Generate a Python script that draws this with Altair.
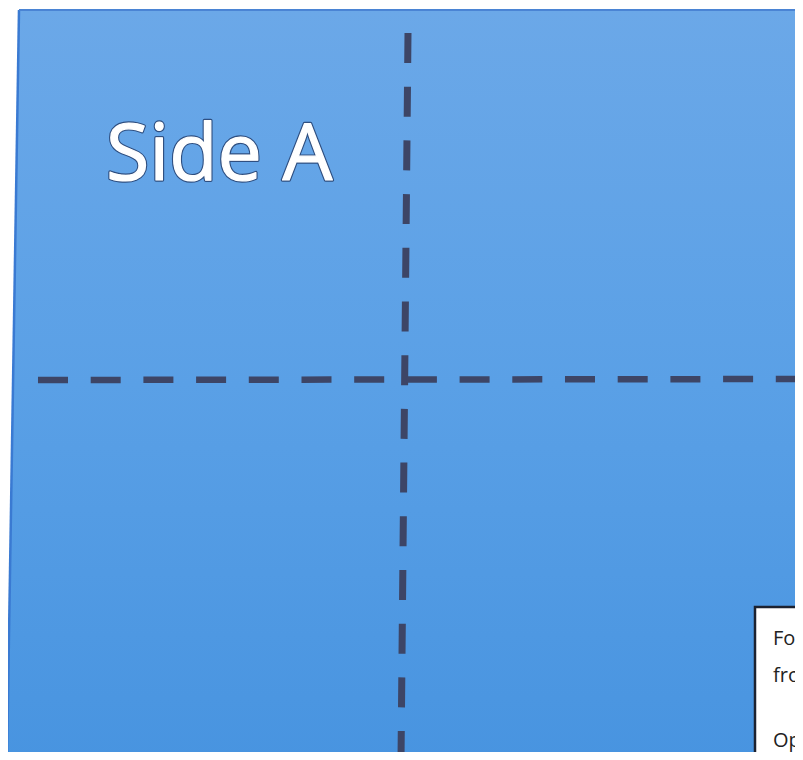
import altair as alt
import pandas as pd

# ---- data (image pixel coordinates) ----
sheet_edge_y = [10, 760]
sheet_left_x = [19, 7]
sheet_right_x = [803, 803]

fold_v_x = [408, 401]
fold_v_y = [33, 760]
fold_h_x = [38, 803]
fold_h_y = [380, 379]

label_text = ["Side A"]
label_x = [106]
label_y = [180]

note_x = [755]
note_x2 = [820]
note_y = [607]
note_y2 = [780]

note_lines = ["Fol", "fro", "Op"]
note_line_x = [773, 773, 773]
note_line_y = [645, 682, 747]

X0, X1 = 8, 795
Y0, Y1 = 8, 752

xs = alt.Scale(domain=[X0, X1], nice=False, zero=False)
ys = alt.Scale(domain=[Y0, Y1], nice=False, zero=False, reverse=True)
noax = None

sheet = pd.DataFrame({"y": sheet_edge_y, "xl": sheet_left_x, "xr": sheet_right_x})
vline = pd.DataFrame({"x": fold_v_x, "y": fold_v_y, "o": [0, 1]})
hline = pd.DataFrame({"x": fold_h_x, "y": fold_h_y, "o": [0, 1]})
label = pd.DataFrame({"t": label_text, "x": label_x, "y": label_y})
note = pd.DataFrame({"x": note_x, "x2": note_x2, "y": note_y, "y2": note_y2})
lines = pd.DataFrame({"t": note_lines, "x": note_line_x, "y": note_line_y})

gradient = alt.Gradient(
    gradient="linear",
    stops=[alt.GradientStop(color="#6ba8e8", offset=0),
           alt.GradientStop(color="#5aa0e6", offset=0.5),
           alt.GradientStop(color="#4894e0", offset=1)],
    x1=0, x2=0, y1=0, y2=1,
)

sheet_area = alt.Chart(sheet).mark_area(orient="horizontal", color=gradient, clip=True).encode(
    y=alt.Y("y:Q", scale=ys, axis=noax),
    x=alt.X("xl:Q", scale=xs, axis=noax),
    x2="xr:Q",
)

left_edge = alt.Chart(sheet).mark_line(color="#3a7ad2", strokeWidth=2.5, clip=True).encode(
    x=alt.X("xl:Q", scale=xs, axis=noax),
    y=alt.Y("y:Q", scale=ys, axis=noax),
    order="y:Q",
)

top_edge = alt.Chart(sheet.iloc[[0]]).mark_rule(color="#4a84d4", strokeWidth=2, clip=True).encode(
    x=alt.X("xl:Q", scale=xs, axis=noax),
    x2="xr:Q",
    y=alt.Y("y:Q", scale=ys, axis=noax),
)

vfold = alt.Chart(vline).mark_line(
    color="#3d4566", strokeWidth=7, strokeDash=[30, 23.7], strokeCap="butt", clip=True
).encode(
    x=alt.X("x:Q", scale=xs, axis=noax),
    y=alt.Y("y:Q", scale=ys, axis=noax),
    order="o:Q",
)

hfold = alt.Chart(hline).mark_line(
    color="#3d4566", strokeWidth=6.5, strokeDash=[30, 22.7], strokeCap="butt", clip=True
).encode(
    x=alt.X("x:Q", scale=xs, axis=noax),
    y=alt.Y("y:Q", scale=ys, axis=noax),
    order="o:Q",
)

title_outline = alt.Chart(label).mark_text(
    font="Open Sans", fontSize=79, color="#2f4f80", stroke="#2f4f80", strokeWidth=3.5,
    align="left", baseline="alphabetic", strokeJoin="round",
).encode(
    x=alt.X("x:Q", scale=xs, axis=noax),
    y=alt.Y("y:Q", scale=ys, axis=noax),
    text="t:N",
)

title_text = alt.Chart(label).mark_text(
    font="Open Sans", fontSize=79, color="#ffffff", stroke="#ffffff", strokeWidth=1.2,
    align="left", baseline="alphabetic", strokeJoin="round",
).encode(
    x=alt.X("x:Q", scale=xs, axis=noax),
    y=alt.Y("y:Q", scale=ys, axis=noax),
    text="t:N",
)

note_box = alt.Chart(note).mark_rect(
    fill="#ffffff", stroke="#1c2230", strokeWidth=2.5, clip=True
).encode(
    x=alt.X("x:Q", scale=xs, axis=noax),
    x2="x2:Q",
    y=alt.Y("y:Q", scale=ys, axis=noax),
    y2="y2:Q",
)

note_text = alt.Chart(lines).mark_text(
    font="Open Sans", fontSize=20, color="#222222", align="left", baseline="alphabetic", clip=True
).encode(
    x=alt.X("x:Q", scale=xs, axis=noax),
    y=alt.Y("y:Q", scale=ys, axis=noax),
    text="t:N",
)

chart = alt.layer(
    sheet_area, left_edge, top_edge, vfold, hfold, title_outline, title_text, note_box, note_text
).properties(
    width=X1 - X0, height=Y1 - Y0,
    autosize=alt.AutoSizeParams(type="none"),
    padding=0,
    background="#ffffff",
).configure_view(stroke=None)

chart.save("out.html", embed_options={"renderer": "svg", "actions": False})
